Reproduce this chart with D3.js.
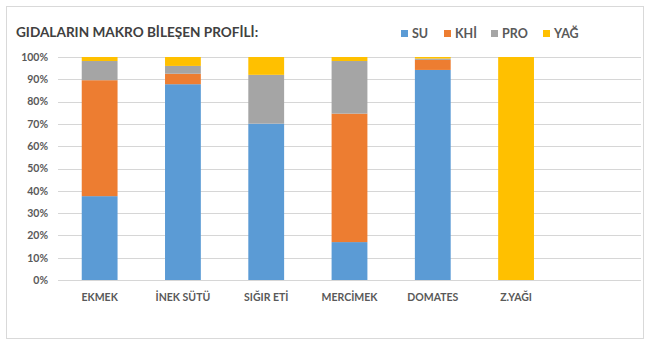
<!DOCTYPE html>
<html>
<head>
<meta charset="utf-8">
<script src="https://cdn.jsdelivr.net/npm/d3@7"></script>
<style>
  html, body { margin: 0; padding: 0; background: #fff; }
  svg { display: block; font-family: Lato, "Open Sans", sans-serif; }
</style>
</head>
<body>
<svg id="chart" width="647" height="344"></svg>
<script>
// Food categories (the last slot is left empty on the axis)
const categories = ["EKMEK", "İNEK SÜTÜ", "SIĞIR ETİ", "MERCİMEK", "DOMATES", "Z.YAĞI", ""];
const seriesNames = ["SU", "KHİ", "PRO", "YAĞ"];
const seriesColors = ["#5B9BD5", "#ED7D31", "#A5A5A5", "#FFC000"];

// Percent share of each component per food
const su  = [37.6, 87.8, 70.1, 17.0, 94.2, 0];
const khi = [52.0,  4.7,  0.0, 57.6,  4.5, 0];
const pro = [ 8.6,  3.5, 21.9, 23.6,  0.6, 0];
const yag = [ 1.8,  4.0,  8.0,  1.8,  0.7, 100];

const yTicks = [0, 10, 20, 30, 40, 50, 60, 70, 80, 90, 100];

const rows = categories.slice(0, 6).map((c, i) => ({
  cat: c, "SU": su[i], "KHİ": khi[i], "PRO": pro[i], "YAĞ": yag[i]
}));

const svg = d3.select("#chart");
const plot = { left: 58, right: 641, top: 57, bottom: 280 };

// chart frame
svg.append("rect")
  .attr("x", 6.5).attr("y", 6.5)
  .attr("width", 637).attr("height", 332)
  .attr("fill", "#fff").attr("stroke", "#d9d9d9").attr("stroke-width", 1);

const x = d3.scaleBand().domain(categories).range([plot.left, plot.right])
  .paddingInner(0.57).paddingOuter(0.285);
const y = d3.scaleLinear().domain([0, 100]).range([plot.bottom, plot.top]);

// horizontal gridlines
svg.append("g").selectAll("line").data(yTicks).join("line")
  .attr("x1", plot.left).attr("x2", plot.right)
  .attr("y1", d => Math.round(y(d)) + 0.5).attr("y2", d => Math.round(y(d)) + 0.5)
  .attr("stroke", "#d6d6d6").attr("stroke-width", 1.2);

// stacked bars
const stack = d3.stack().keys(seriesNames)(rows);
const color = d3.scaleOrdinal().domain(seriesNames).range(seriesColors);
svg.append("g").selectAll("g").data(stack).join("g")
  .attr("fill", d => color(d.key))
  .selectAll("rect").data(d => d).join("rect")
  .attr("x", d => x(d.data.cat))
  .attr("width", x.bandwidth())
  .attr("y", d => y(d[1]))
  .attr("height", d => Math.max(0, y(d[0]) - y(d[1])));

// y axis labels
const yAxis = d3.axisLeft(y).tickValues(yTicks).tickFormat(d => d + "%").tickSize(0).tickPadding(0);
const gy = svg.append("g").attr("transform", `translate(${plot.left - 10},0)`).call(yAxis);
gy.select(".domain").remove();
gy.selectAll("text")
  .attr("fill", "#595959").attr("font-size", "10.5px").attr("font-weight", "bold")
  .attr("font-family", "Lato, sans-serif");

// x axis labels
const xAxis = d3.axisBottom(x).tickSize(0).tickPadding(0);
const gx = svg.append("g").attr("transform", `translate(0,${plot.bottom + 14})`).call(xAxis);
gx.select(".domain").remove();
gx.selectAll("text")
  .attr("fill", "#595959").attr("font-size", "10.5px").attr("font-weight", "bold")
  .attr("font-family", "Lato, sans-serif");

// title
svg.append("text")
  .attr("x", 16).attr("y", 37)
  .attr("fill", "#404040").attr("font-size", "13.6px").attr("font-weight", "bold")
  .text("GIDALARIN MAKRO BİLEŞEN PROFİLİ:");

// legend
const legendX = [401, 444, 491, 543];
const lg = svg.append("g").selectAll("g").data(seriesNames).join("g")
  .attr("transform", (d, i) => `translate(${legendX[i]},29)`);
lg.append("rect").attr("width", 7).attr("height", 7).attr("y", 1)
  .attr("fill", d => color(d));
lg.append("text").attr("x", 11).attr("y", 8.5)
  .attr("fill", "#595959").attr("font-size", "12.5px").attr("font-weight", "bold")
  .text(d => d);
</script>
</body>
</html>
